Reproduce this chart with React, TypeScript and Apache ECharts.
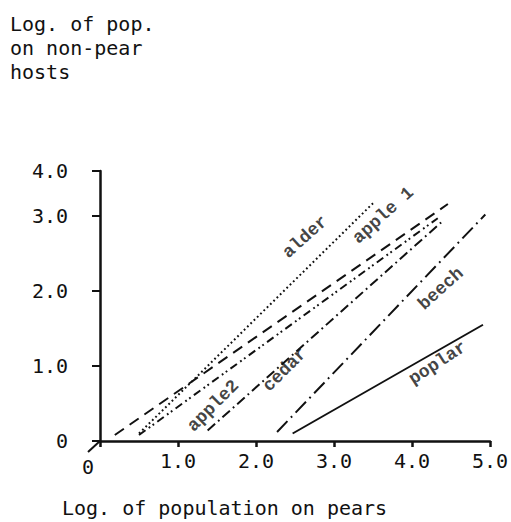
import React, { useEffect, useRef } from "react";
import * as echarts from "echarts";

// Lines (log pop on pears -> log pop on non-pear hosts)
const lineNames = ["apple 1", "alder", "apple2", "cedar", "beech", "poplar"];
const startX = [0.19, 0.5, 0.5, 1.38, 2.27, 2.47];
const startY = [0.08, 0.1, 0.08, 0.14, 0.12, 0.1];
const endX = [4.46, 3.5, 4.33, 4.38, 4.94, 4.91];
const endY = [3.16, 3.17, 2.97, 2.92, 3.02, 1.55];
const dashPatterns: (number[] | string)[] = [
  [11, 7],
  [1.8, 2.8],
  [8, 4, 1.8, 3, 1.8, 4],
  [10, 4, 1.8, 4],
  [15, 5, 1.8, 5],
  "solid",
];

// Line labels
const labelTexts = ["alder", "apple 1", "apple2", "cedar", "beech", "poplar"];
const labelX = [2.63, 3.63, 1.45, 2.37, 4.37, 4.33];
const labelY = [2.72, 3.01, 0.47, 0.95, 2.03, 1.04];
const labelAngle = [42, 42, 45, 45, 42, 33];

// Axes
const yTicks = [0, 1, 2, 3, 3.6];
const yTopLabel = "4.0";
const yTitle = ["Log. of pop.", "on non-pear", "hosts"];
const xTitle = "Log. of population on pears";

const MONO = "DejaVu Sans Mono";
const SERIF_MONO = "Liberation Mono";

export default function App() {
  const ref = useRef<HTMLDivElement>(null);
  useEffect(() => {
    if (!ref.current) return;
    const chart = echarts.init(ref.current, undefined, { renderer: "svg" });
    const lineSeries = lineNames.map((name, i) => ({
      name,
      type: "line",
      data: [
        [startX[i], startY[i]],
        [endX[i], endY[i]],
      ],
      showSymbol: false,
      symbol: "none",
      lineStyle: { color: "#111", width: 2, type: dashPatterns[i] as any },
      silent: true,
    }));
    const labelSeries = {
      type: "scatter",
      symbolSize: 0,
      silent: true,
      data: labelTexts.map((t, i) => ({
        value: [labelX[i], labelY[i]],
        name: t,
        label: { rotate: labelAngle[i] },
      })),
      label: {
        show: true,
        position: "inside",
        formatter: (p: any) => p.name,
        color: "#111",
        fontFamily: SERIF_MONO,
        fontSize: 18,
        fontWeight: "bold",
      },
    };
    chart.setOption({
      animation: false,
      backgroundColor: "#fff",
      grid: {
        left: 100,
        right: 21,
        top: 171,
        bottom: 81,
        containLabel: false,
        outerBoundsMode: "none",
      },
      xAxis: {
        type: "value",
        min: 0,
        max: 5,
        interval: 1,
        splitLine: { show: false },
        axisLine: { lineStyle: { color: "#111", width: 2.5 } },
        axisTick: { show: true, length: 6, lineStyle: { color: "#111", width: 2.5 } },
        axisLabel: {
          color: "#111",
          fontFamily: MONO,
          fontSize: 20,
          margin: 10,
          hideOverlap: false,
          showMaxLabel: true,
          showMinLabel: true,
          formatter: (v: number) => (v === 0 ? "{z|0}" : v.toFixed(1)),
          rich: {
            z: { fontFamily: MONO, fontSize: 20, color: "#111", padding: [6, 24, 0, 0] },
          },
        },
      },
      yAxis: {
        type: "value",
        min: 0,
        max: 3.6,
        splitLine: { show: false },
        axisLine: { show: true, lineStyle: { color: "#111", width: 2.5 } },
        axisTick: {
          show: true,
          length: 8,
          customValues: yTicks,
          lineStyle: { color: "#111", width: 2 },
        },
        axisLabel: {
          color: "#111",
          fontFamily: MONO,
          fontSize: 20,
          margin: 32,
          customValues: yTicks,
          formatter: (v: number) =>
            v === 0 ? "0" : v > 3.5 ? yTopLabel : v.toFixed(1),
        },
      },
      graphic: [
        {
          type: "text",
          left: 10,
          top: 12,
          style: {
            text: yTitle.join("\n"),
            fontFamily: MONO,
            fontSize: 20,
            fill: "#111",
            lineHeight: 24,
          },
        },
        {
          type: "text",
          left: 62,
          top: 498,
          style: {
            text: xTitle,
            fontFamily: MONO,
            fontSize: 20,
            fill: "#111",
          },
        },
      ],
      series: [...lineSeries, labelSeries],
    });
    const o = chart.convertToPixel({ gridIndex: 0 }, [0, 0]) as number[];
    if (o) {
      chart.setOption({
        graphic: [
          {},
          {},
          {
            type: "line",
            shape: { x1: o[0], y1: o[1], x2: o[0] - 12, y2: o[1] + 11 },
            style: { stroke: "#111", lineWidth: 2 },
          },
        ],
      });
    }
    return () => chart.dispose();
  }, []);
  return (
    <div
      ref={ref}
      style={{ position: "fixed", left: 0, top: 0, width: 511, height: 522 }}
    />
  );
}
